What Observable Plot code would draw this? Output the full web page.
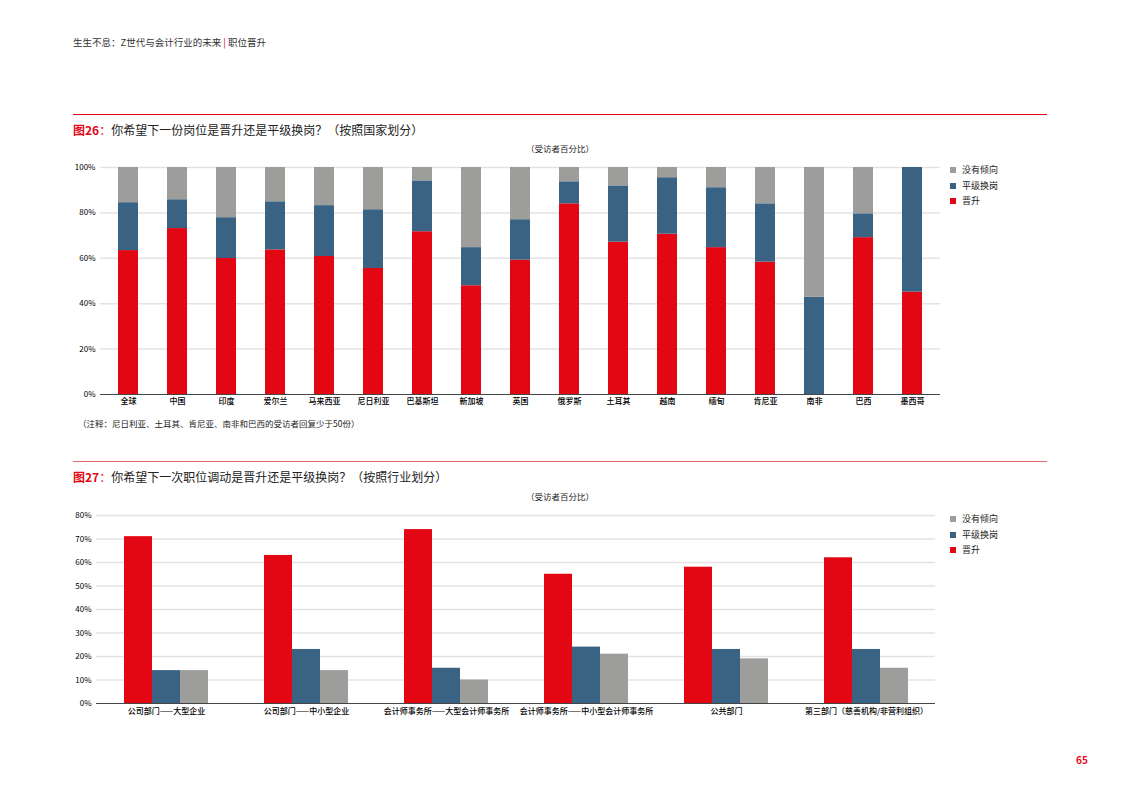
<!DOCTYPE html>
<html><head><meta charset="utf-8">
<script src="https://cdn.jsdelivr.net/npm/d3@7"></script>
<script src="https://cdn.jsdelivr.net/npm/@observablehq/plot@0.6"></script>
<style>
html,body{margin:0;padding:0;background:#fff;}
body{width:1122px;height:793px;position:relative;overflow:hidden;font-family:"Noto Sans CJK SC","Noto Sans",sans-serif;color:#222;}
.abs{position:absolute;white-space:nowrap;}
.hdr{left:73px;top:35px;font-size:9.5px;color:#333;}
.hdr .bar{color:#e30613;}
.rule{position:absolute;left:73px;width:974px;height:1px;}
.title{left:73px;font-size:12px;color:#222;}
.title b{color:#e30613;font-weight:bold;}
.sub{font-size:8.5px;color:#222;transform:translateX(-50%);}
.note{left:78px;top:417px;font-size:8.5px;color:#222;}
.legend{left:950px;font-size:9px;color:#222;line-height:15.5px;}
.legend .sw{display:inline-block;width:6px;height:6px;margin-right:6px;vertical-align:0px;}
.pg{left:1076px;top:752px;font-size:10px;font-weight:bold;color:#e30613;}
#c1{position:absolute;left:60px;top:160px;}
#c2{position:absolute;left:60px;top:505px;width:880px;height:216px;}
#c2 svg{position:absolute;left:0;top:0;}
g[aria-label="x-axis tick label"], g[aria-label="fx-axis tick label"]{font-weight:500;}
</style></head>
<body>
<div class="abs hdr">生生不息：Z世代与会计行业的未来 <span class="bar">|</span> 职位晋升</div>
<div class="rule" style="top:114px;background:#e30613;"></div>
<div class="abs title" style="top:121px;"><b>图26</b><span style="color:#e30613">：</span>你希望下一份岗位是晋升还是平级换岗？（按照国家划分）</div>
<div class="abs sub" style="left:560px;top:142px;">（受访者百分比）</div>
<div id="c1"></div>
<div class="abs legend" id="lg1" style="top:162px;"></div>
<div class="abs note">（注释：尼日利亚、土耳其、肯尼亚、南非和巴西的受访者回复少于50份）</div>
<div class="rule" style="top:461px;background:#e9666c;"></div>
<div class="abs title" style="top:468px;"><b>图27</b><span style="color:#e30613">：</span>你希望下一次职位调动是晋升还是平级换岗？（按照行业划分）</div>
<div class="abs sub" style="left:560px;top:490px;">（受访者百分比）</div>
<div id="c2"></div>
<div class="abs legend" id="lg2" style="top:511px;"></div>
<div class="abs pg">65</div>
<script>
// ---- data ----
const seriesNames = ["晋升", "平级换岗", "没有倾向"];
const seriesColors = ["#e30613", "#3a6282", "#9d9d9c"];

const countries = ["全球","中国","印度","爱尔兰","马来西亚","尼日利亚","巴基斯坦","新加坡","英国","俄罗斯","土耳其","越南","缅甸","肯尼亚","南非","巴西","墨西哥"];
const promoteByCountry = [63.4, 73.1, 59.9, 63.7, 60.8, 55.5, 71.7, 47.9, 59.2, 84.0, 67.1, 70.6, 64.7, 58.3, 0, 69.1, 45.1];
const lateralByCountry = [21.1, 12.7, 18.0, 21.2, 22.4, 25.9, 22.4, 16.8, 17.8, 9.7, 24.8, 24.9, 26.4, 25.7, 42.8, 10.5, 54.9];
const noPrefByCountry  = [15.5, 14.2, 22.1, 15.1, 16.8, 18.6, 5.9, 35.3, 23.0, 6.3, 8.1, 4.5, 8.9, 16.0, 57.2, 20.4, 0];
const yTicks1 = [0, 20, 40, 60, 80, 100];

const sectors = ["公司部门——大型企业","公司部门——中小型企业","会计师事务所——大型会计师事务所","会计师事务所——中小型会计师事务所","公共部门","第三部门（慈善机构/非营利组织）"];
const promoteBySector = [71, 63, 74, 55, 58, 62];
const lateralBySector = [14, 23, 15, 24, 23, 23];
const noPrefBySector  = [14, 14, 10, 21, 19, 15];
const yTicks2 = [0, 10, 20, 30, 40, 50, 60, 70, 80];

// ---- tidy tables ----
const byCountrySeries = [promoteByCountry, lateralByCountry, noPrefByCountry];
const t1 = [];
seriesNames.forEach((s, si) => countries.forEach((c, ci) => t1.push({cat: c, series: s, value: byCountrySeries[si][ci]})));
const bySectorSeries = [promoteBySector, lateralBySector, noPrefBySector];
const t2 = [];
sectors.forEach((c, ci) => seriesNames.forEach((s, si) => t2.push({cat: c, series: s, value: bySectorSeries[si][ci]})));

const color = {domain: seriesNames, range: seriesColors};
const font = '"Noto Sans CJK SC","Noto Sans",sans-serif';
const style = {fontFamily: font, fontSize: "8px", color: "#000", background: "transparent"};

// ---- chart 1 ----
const p1 = Plot.plot({
  width: 885, height: 250,
  marginLeft: 40, marginRight: 5, marginTop: 7, marginBottom: 16,
  style,
  x: {domain: countries, paddingInner: 0.6, paddingOuter: 0.3, label: null, tickSize: 0, tickPadding: 4},
  y: {domain: [0, 100], ticks: yTicks1, tickFormat: d => d + "%", label: null, tickSize: 0, tickPadding: 5},
  color,
  marks: [
    Plot.ruleY(yTicks1.slice(1), {stroke: "#e3e3e3", strokeWidth: 1.5}),
    Plot.barY(t1, {x: "cat", y: "value", fill: "series", order: seriesNames}),
    Plot.ruleY([0], {stroke: "#444", strokeWidth: 1})
  ]
});
document.getElementById("c1").append(p1);

// ---- chart 2 (grid layer + faceted bars layer sharing the same frame) ----
const frame2 = {width: 880, height: 216, marginLeft: 36, marginRight: 5, marginTop: 10, marginBottom: 18};
const yScale2 = {domain: [0, 80], ticks: yTicks2, tickFormat: d => d + "%", label: null, tickSize: 0, tickPadding: 5};
const grid2 = Plot.plot({
  ...frame2, style,
  x: {axis: null},
  y: yScale2,
  marks: [
    Plot.ruleY(yTicks2.slice(1), {stroke: "#e3e3e3", strokeWidth: 1.5})
  ]
});
const bars2 = Plot.plot({
  ...frame2, style,
  fx: {domain: sectors, paddingInner: 0.4, paddingOuter: 0.18, label: null, tickSize: 0, tickPadding: 5, axis: "bottom"},
  x: {domain: seriesNames, padding: 0, axis: null},
  y: {...yScale2, axis: null},
  color,
  marks: [
    Plot.barY(t2, {fx: "cat", x: "series", y: "value", fill: "series"})
  ]
});
const base2 = Plot.plot({
  ...frame2, style,
  x: {axis: null},
  y: {...yScale2, axis: null},
  marks: [Plot.ruleY([0], {stroke: "#444", strokeWidth: 1})]
});
const c2 = document.getElementById("c2");
c2.append(grid2, bars2, base2);

// ---- legends ----
function legend(id) {
  const el = document.getElementById(id);
  [2, 1, 0].forEach(i => {
    const row = document.createElement("div");
    row.innerHTML = `<span class="sw" style="background:${seriesColors[i]}"></span>${seriesNames[i]}`;
    el.append(row);
  });
}
legend("lg1"); legend("lg2");
</script>
</body></html>
